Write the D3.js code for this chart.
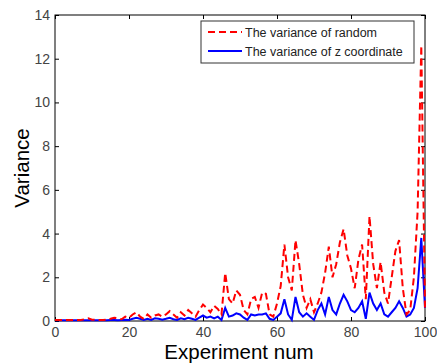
<!DOCTYPE html>
<html lang="en">
<head>
    <meta charset="UTF-8">
    <script src="https://cdnjs.cloudflare.com/ajax/libs/d3/7.8.5/d3.min.js"></script>
    <style>
        body { margin: 0; background: #fff; }
        text { font-family: "Liberation Sans", Arial, sans-serif; }
    </style>
</head>
<body>
    <svg id="chart" width="437" height="364"></svg>
    <script>
        // experiment numbers 0..100
        const experiments = d3.range(0, 101);
        const randomVar = [
            0.05, 0.05, 0.05, 0.05, 0.05, 0.05, 0.05, 0.05, 0.08, 0.12,
            0.06, 0.05, 0.05, 0.05, 0.06, 0.1, 0.15, 0.12, 0.08, 0.2,
            0.15, 0.3, 0.4, 0.2, 0.1, 0.3, 0.15, 0.25, 0.3, 0.2,
            0.3, 0.45, 0.3, 0.15, 0.4, 0.25, 0.5, 0.35, 0.2, 0.5,
            0.75, 0.6, 0.4, 0.7, 0.55, 0.3, 2.2, 1.0, 0.8, 1.4,
            1.2, 0.5, 0.3, 1.0, 1.1, 0.6, 1.3, 1.25, 0.3, 0.2,
            0.8, 1.6, 3.5, 2.0, 1.4, 3.7, 2.6, 1.2, 0.6, 1.0,
            0.4, 0.8, 1.3, 2.2, 3.4, 2.0, 2.6, 3.6, 4.2, 3.0,
            2.4, 1.5, 2.8, 3.5, 1.0, 4.8, 2.6, 1.5, 2.7, 1.3,
            0.8, 2.0, 3.2, 3.7, 1.5, 0.3, 0.5, 2.0, 5.0, 12.6,
            0.6
        ];
        const zVar = [
            0.03, 0.03, 0.03, 0.03, 0.03, 0.03, 0.03, 0.03, 0.03, 0.03,
            0.03, 0.03, 0.03, 0.04, 0.04, 0.05, 0.05, 0.04, 0.05, 0.06,
            0.05, 0.1, 0.15, 0.1, 0.05, 0.1, 0.05, 0.12, 0.1, 0.06,
            0.1, 0.15, 0.08, 0.05, 0.12, 0.08, 0.15, 0.1, 0.05, 0.15,
            0.25, 0.15, 0.2, 0.12, 0.2, 0.05, 0.6, 0.2, 0.25, 0.35,
            0.3, 0.15, 0.05, 0.3, 0.25, 0.3, 0.3, 0.35, 0.1, 0.05,
            0.2, 0.35, 1.0, 0.3, 0.05, 1.1, 0.4, 0.2, 0.35, 0.2,
            0.05, 0.5, 0.8, 0.3, 1.1, 0.5, 0.3, 0.8, 1.2, 0.9,
            0.5, 0.4, 0.6, 0.9, 0.1, 1.3, 0.8, 0.5, 0.8, 0.3,
            0.2, 0.4, 0.6, 0.9, 0.6, 0.2, 0.3, 0.6, 1.5, 3.8,
            0.6
        ];
        const xTicks = [0, 20, 40, 60, 80, 100];
        const yTicks = [0, 2, 4, 6, 8, 10, 12, 14];
        const legendLabels = ["The variance of random", "The variance of z coordinate"];

        const red = "#ff0000", blue = "#0000ff";
        const plotLeft = 55, plotRight = 425, plotTop = 15, plotBottom = 321;

        const svg = d3.select("#chart");
        const xScale = d3.scaleLinear().domain([0, 100]).range([plotLeft, plotRight]);
        const yScale = d3.scaleLinear().domain([0, 14]).range([plotBottom, plotTop]);

        // frame
        svg.append("rect")
            .attr("x", plotLeft).attr("y", plotTop)
            .attr("width", plotRight - plotLeft).attr("height", plotBottom - plotTop)
            .attr("fill", "none").attr("stroke", "#000").attr("stroke-width", 1);

        // axes with inward ticks, mirrored on the opposite sides
        const axisStyle = g => {
            g.select(".domain").remove();
            g.selectAll("line").attr("stroke", "#000");
            g.selectAll("text").attr("font-size", 14).attr("fill", "#444");
        };
        svg.append("g").attr("transform", `translate(0,${plotBottom})`)
            .call(d3.axisBottom(xScale).tickValues(xTicks).tickSizeInner(-4).tickSizeOuter(0).tickPadding(6))
            .call(axisStyle);
        svg.append("g").attr("transform", `translate(0,${plotTop})`)
            .call(d3.axisTop(xScale).tickValues(xTicks).tickSizeInner(-4).tickSizeOuter(0).tickFormat(""))
            .call(axisStyle);
        svg.append("g").attr("transform", `translate(${plotLeft},0)`)
            .call(d3.axisLeft(yScale).tickValues(yTicks).tickSizeInner(-4).tickSizeOuter(0).tickPadding(5))
            .call(axisStyle);
        svg.append("g").attr("transform", `translate(${plotRight},0)`)
            .call(d3.axisRight(yScale).tickValues(yTicks).tickSizeInner(-4).tickSizeOuter(0).tickFormat(""))
            .call(axisStyle);

        const line = values => d3.line()
            .x((d, i) => xScale(experiments[i]))
            .y(d => yScale(d))(values);

        svg.append("path")
            .attr("d", line(zVar))
            .attr("fill", "none").attr("stroke", blue).attr("stroke-width", 2);
        svg.append("path")
            .attr("d", line(randomVar))
            .attr("fill", "none").attr("stroke", red).attr("stroke-width", 2)
            .attr("stroke-dasharray", "7,4");

        // axis labels
        svg.append("text")
            .attr("x", 239).attr("y", 359)
            .attr("text-anchor", "middle").attr("font-size", 20.5)
            .text("Experiment num");
        svg.append("text")
            .attr("transform", "translate(29,168) rotate(-90)")
            .attr("text-anchor", "middle").attr("font-size", 20.5)
            .text("Variance");

        // legend
        const legend = svg.append("g");
        legend.append("rect")
            .attr("x", 201).attr("y", 21).attr("width", 213).attr("height", 42)
            .attr("fill", "#fff").attr("stroke", "#333").attr("stroke-width", 1);
        const entries = [
            { label: legendLabels[0], color: red, dash: "7,4", y: 32 },
            { label: legendLabels[1], color: blue, dash: null, y: 51 }
        ];
        entries.forEach(e => {
            legend.append("line")
                .attr("x1", 208).attr("x2", 242)
                .attr("y1", e.y).attr("y2", e.y)
                .attr("stroke", e.color).attr("stroke-width", 2)
                .attr("stroke-dasharray", e.dash);
            legend.append("text")
                .attr("x", 245).attr("y", e.y + 4.5)
                .attr("font-size", 12.5).attr("fill", "#222")
                .text(e.label);
        });
    </script>
</body>
</html>
